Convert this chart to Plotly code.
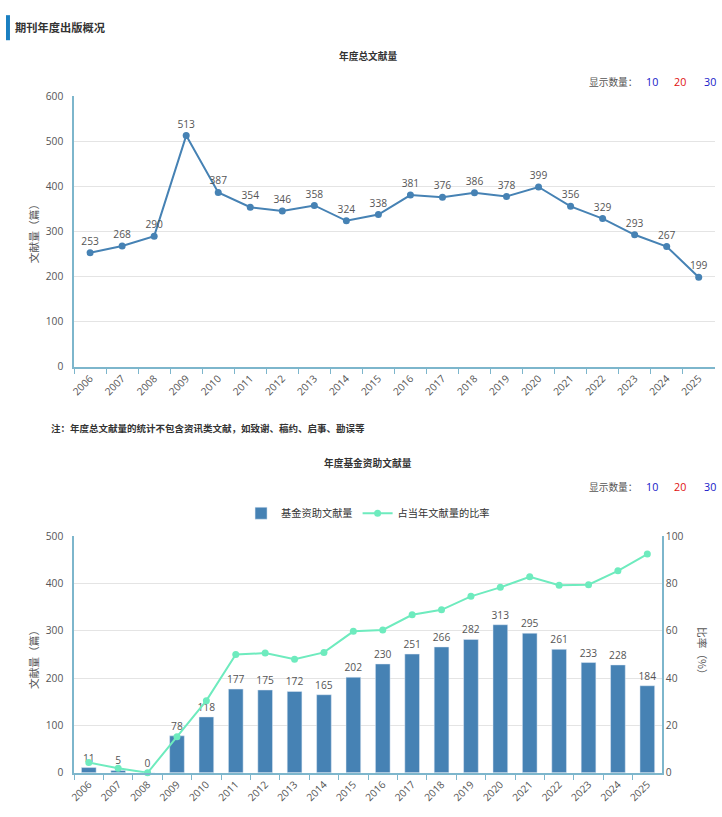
import plotly.graph_objects as go

W, H = 722, 817
# The page is photographed with the browser's 8px body margin and shrunk to
# the window; these factors map reference pixels onto figure pixels.
OFF = 8
SX = W / (W + 2 * OFF)
SY = H / (H + 2 * OFF)

years = ["2006", "2007", "2008", "2009", "2010", "2011", "2012", "2013", "2014", "2015",
         "2016", "2017", "2018", "2019", "2020", "2021", "2022", "2023", "2024", "2025"]
total = [253, 268, 290, 513, 387, 354, 346, 358, 324, 338,
         381, 376, 386, 378, 399, 356, 329, 293, 267, 199]
funded = [11, 5, 0, 78, 118, 177, 175, 172, 165, 202,
          230, 251, 266, 282, 313, 295, 261, 233, 228, 184]
ratio = [4.3, 1.9, 0.0, 15.2, 30.5, 50.0, 50.6, 48.0, 50.9, 59.8,
         60.4, 66.8, 68.9, 74.6, 78.4, 82.9, 79.3, 79.5, 85.4, 92.5]


def px(x):
    return (x / SX - OFF) / W


def py(y):
    return 1 - (y / SY - OFF) / H


def fs(s):
    return round(s / SX, 2)


FONT = "Open Sans, Noto Sans CJK SC, sans-serif"
CJK = "Noto Sans CJK SC, sans-serif"
AXIS_COLOR = "#7DB6CC"
GRID = "#E4E4E4"
TICK_FONT = dict(size=fs(10), color="#555555", family=FONT)
LABEL_FONT = dict(size=fs(10), color="#555555", family=FONT)
LINE_BLUE = "#4682B4"
BAR_BLUE = "#4682B4"
GREEN = "#6EEBBE"

fig = go.Figure()

fig.add_trace(go.Scatter(
    x=years, y=total, xaxis="x", yaxis="y",
    mode="lines+markers+text", text=[str(v) for v in total],
    textposition="top center", textfont=LABEL_FONT,
    line=dict(color=LINE_BLUE, width=2), marker=dict(size=7, color=LINE_BLUE),
    showlegend=False, cliponaxis=False, hoverinfo="x+y",
))

fig.add_trace(go.Bar(
    x=years, y=funded, xaxis="x2", yaxis="y2", name="基金资助文献量",
    marker=dict(color=BAR_BLUE), width=0.5,
    text=[str(v) for v in funded], textposition="outside", constraintext="none",
    textfont=LABEL_FONT, cliponaxis=False,
))

fig.add_trace(go.Scatter(
    x=years, y=ratio, xaxis="x2", yaxis="y3", name="占当年文献量的比率",
    mode="lines+markers", line=dict(color=GREEN, width=2),
    marker=dict(size=7, color=GREEN), cliponaxis=False,
))

xcommon = dict(
    type="category", showline=True, linecolor=AXIS_COLOR, linewidth=1.5,
    ticks="outside", tickson="boundaries", ticklen=5, tickcolor=AXIS_COLOR,
    tickangle=-45, tickfont=TICK_FONT, showgrid=False, zeroline=False,
    range=[-0.5, 19.5], fixedrange=True,
)
ycommon = dict(
    showline=True, linecolor=AXIS_COLOR, linewidth=1.5, gridcolor=GRID,
    gridwidth=1, tickfont=TICK_FONT, zeroline=False, ticks="", fixedrange=True,
    ticklabelstandoff=7,
)

annotations = [
    dict(x=px(15), y=py(28), text="<b>期刊年度出版概况</b>", xanchor="left", yanchor="middle",
         font=dict(size=fs(11), color="#333333", family=CJK)),
    dict(x=px(365), y=py(57), text="<b>年度总文献量</b>", xanchor="center", yanchor="middle",
         font=dict(size=fs(9.5), color="#333333", family=CJK)),
    dict(x=px(581), y=py(83), text="显示数量：", xanchor="left", yanchor="middle",
         font=dict(size=fs(9.5), color="#555555", family=CJK)),
    dict(x=px(645), y=py(83), text="10", xanchor="center", yanchor="middle",
         font=dict(size=fs(10.5), color="#1515C8", family=FONT)),
    dict(x=px(673), y=py(83), text="20", xanchor="center", yanchor="middle",
         font=dict(size=fs(10.5), color="#E01010", family=FONT)),
    dict(x=px(702), y=py(83), text="30", xanchor="center", yanchor="middle",
         font=dict(size=fs(10.5), color="#1515C8", family=FONT)),
    dict(x=px(35), y=py(232), text="文献量（篇）", textangle=-90, xanchor="center", yanchor="middle",
         font=dict(size=fs(10.5), color="#555555", family=CJK)),
    dict(x=px(50), y=py(428), text="<b>注：年度总文献量的统计不包含资讯类文献，如致谢、稿约、启事、勘误等</b>",
         xanchor="left", yanchor="middle", font=dict(size=fs(9.3), color="#333333", family=CJK)),
    dict(x=px(365), y=py(463), text="<b>年度基金资助文献量</b>", xanchor="center", yanchor="middle",
         font=dict(size=fs(9.5), color="#333333", family=CJK)),
    dict(x=px(581), y=py(487), text="显示数量：", xanchor="left", yanchor="middle",
         font=dict(size=fs(9.5), color="#555555", family=CJK)),
    dict(x=px(645), y=py(487), text="10", xanchor="center", yanchor="middle",
         font=dict(size=fs(10.5), color="#1515C8", family=FONT)),
    dict(x=px(673), y=py(487), text="20", xanchor="center", yanchor="middle",
         font=dict(size=fs(10.5), color="#E01010", family=FONT)),
    dict(x=px(702), y=py(487), text="30", xanchor="center", yanchor="middle",
         font=dict(size=fs(10.5), color="#1515C8", family=FONT)),
    dict(x=px(35), y=py(657), text="文献量（篇）", textangle=-90, xanchor="center", yanchor="middle",
         font=dict(size=fs(10.5), color="#555555", family=CJK)),
    dict(x=px(695), y=py(653), text="比率（%）", textangle=90, xanchor="center", yanchor="middle",
         font=dict(size=fs(10.5), color="#555555", family=CJK)),
]
for a in annotations:
    a.update(xref="paper", yref="paper", showarrow=False)

shapes = [
    dict(type="rect", xref="paper", yref="paper", x0=0, x1=4 / W, y0=py(41), y1=py(16),
         fillcolor="#1A7FC1", line=dict(width=0)),
]

fig.update_layout(
    width=W, height=H, margin=dict(l=0, r=0, t=0, b=0),
    paper_bgcolor="white", plot_bgcolor="white",
    font=dict(family=FONT, size=fs(10), color="#555555"),
    xaxis=dict(domain=[px(75), px(707)], anchor="y", **xcommon),
    yaxis=dict(domain=[py(367), py(97)], anchor="x", range=[0, 600], dtick=100, **ycommon),
    xaxis2=dict(domain=[px(75), px(655)], anchor="y2", **xcommon),
    yaxis2=dict(domain=[py(772), py(536)], anchor="x2", range=[0, 500], dtick=100, **ycommon),
    yaxis3=dict(overlaying="y2", side="right", anchor="x2", range=[0, 100], dtick=20,
                showline=True, linecolor=AXIS_COLOR, linewidth=1.5, showgrid=False,
                tickfont=TICK_FONT, zeroline=False, ticks="", fixedrange=True),
    legend=dict(orientation="h", x=px(365), xanchor="center", y=py(513), yanchor="middle",
                font=dict(size=fs(10), color="#333333", family=CJK), itemwidth=30,
                bgcolor="rgba(0,0,0,0)"),
    bargap=0.5,
    annotations=annotations,
    shapes=shapes,
)

fig.write_html("out.html")
